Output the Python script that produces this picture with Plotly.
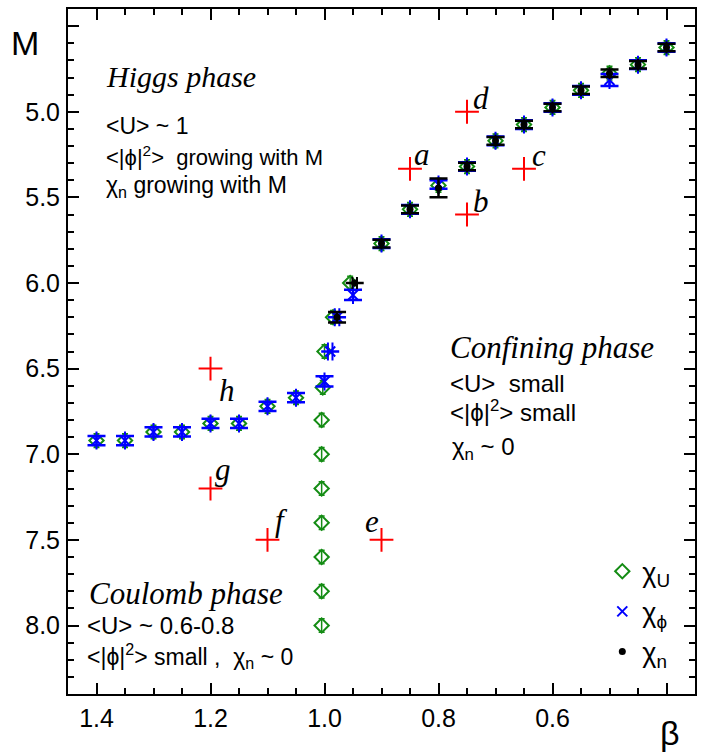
import plotly.graph_objects as go

# ---------------- data ----------------
# chi_U (green open diamonds)
beta_U = [1.40, 1.35, 1.30, 1.25, 1.20, 1.15, 1.10, 1.05, 1.003, 1.0, 0.985, 0.955,
          0.90, 0.85, 0.80, 0.75, 0.70, 0.65, 0.60, 0.55, 0.50, 0.45, 0.40,
          1.005, 1.005, 1.005, 1.005, 1.005, 1.005, 1.005]
M_U = [6.92, 6.92, 6.87, 6.87, 6.82, 6.82, 6.72, 6.67, 6.61, 6.40, 6.20, 6.00,
       5.77, 5.57, 5.43, 5.32, 5.17, 5.075, 4.975, 4.875, 4.775, 4.725, 4.625,
       6.80, 7.00, 7.20, 7.40, 7.60, 7.80, 8.00]
err_U = [0.04] * 30

# chi_phi (blue crosses)
beta_phi = [1.40, 1.35, 1.30, 1.25, 1.20, 1.15, 1.10, 1.05, 1.0, 0.99, 0.978, 0.95,
            0.90, 0.85, 0.80, 0.75, 0.70, 0.65, 0.60, 0.55, 0.50, 0.45, 0.40]
M_phi = [6.92, 6.92, 6.87, 6.87, 6.82, 6.82, 6.72, 6.67, 6.575, 6.40, 6.20, 6.07,
         5.77, 5.57, 5.425, 5.32, 5.17, 5.075, 4.975, 4.875, 4.815, 4.725, 4.625]
err_phi_y = [0.027] * 8 + [0.03, None, None, 0.03] + [0.025] * 8 + [0.035, 0.025, 0.025]
err_phi_x = [None] * 9 + [0.004, 0.004] + [None] * 12

# chi_n (black dots)
beta_n = [0.978, 0.947, 0.90, 0.85, 0.80, 0.75, 0.70, 0.65, 0.60, 0.55, 0.50, 0.45, 0.40]
M_n = [6.20, 6.00, 5.77, 5.57, 5.445, 5.32, 5.17, 5.075, 4.975, 4.875, 4.775, 4.725, 4.625]
err_n_y = [0.03, None, 0.022, 0.022, 0.055, 0.022, 0.022, 0.022, 0.022, 0.022, 0.022, 0.022, 0.022]
err_n_x = [None, 0.004] + [None] * 11

# red reference points a..h
beta_pts = [0.85, 0.75, 0.65, 0.75, 0.90, 1.10, 1.20, 1.20]
M_pts = [5.333, 5.60, 5.333, 5.00, 7.50, 7.50, 7.20, 6.50]
pt_labels = ["a", "b", "c", "d", "e", "f", "g", "h"]
lab_dx = [12, 14, 15, 14, -10, 14, 12, 16]
lab_dy = [14, 13, 13, 13, 18, 19, 19, -22]

x_tickvals = [1.4, 1.2, 1.0, 0.8, 0.6, 0.4]
x_ticktext = ["1.4", "1.2", "1.0", "0.8", "0.6", ""]
y_tickvals = [4.5, 5.0, 5.5, 6.0, 6.5, 7.0, 7.5, 8.0]
y_ticktext = ["", "5.0", "5.5", "6.0", "6.5", "7.0", "7.5", "8.0"]

GREEN = "#148c14"
BLUE = "#0000ff"
RED = "#ff0000"
SANS = "Liberation Sans, Arial, Helvetica, sans-serif"
SERIF = "Liberation Serif, Times New Roman, serif"

fig = go.Figure()

fig.add_trace(go.Scatter(
    x=beta_U, y=M_U, mode="markers", name="χ<sub>U</sub>", legendgroup="U",
    marker=dict(symbol="diamond-open", size=11, color=GREEN, line=dict(width=2, color=GREEN)),
    error_y=dict(type="data", array=err_U, color=GREEN, thickness=1.5, width=3),
))
fig.add_trace(go.Scatter(
    x=beta_phi, y=M_phi, mode="markers", name="χ<sub>ϕ</sub>", legendgroup="phi",
    marker=dict(symbol="x-thin-open", size=10, color=BLUE, line=dict(width=2, color=BLUE)),
    error_y=dict(type="data", array=err_phi_y, color=BLUE, thickness=2.5, width=9),
    error_x=dict(type="data", array=err_phi_x, color=BLUE, thickness=2, width=9),
))
fig.add_trace(go.Scatter(
    x=beta_n, y=M_n, mode="markers", name="χ<sub>n</sub>", legendgroup="n",
    marker=dict(symbol="circle", size=7, color="black"),
    error_y=dict(type="data", array=err_n_y, color="black", thickness=2.5, width=9),
    error_x=dict(type="data", array=err_n_x, color="black", thickness=2, width=6),
))
fig.add_trace(go.Scatter(
    x=beta_pts, y=M_pts, mode="markers", showlegend=False,
    marker=dict(symbol="cross-thin-open", size=17, color=RED, line=dict(width=2, color=RED)),
))

for b, m, t, dx, dy in zip(beta_pts, M_pts, pt_labels, lab_dx, lab_dy):
    fig.add_annotation(x=b, y=m, xref="x", yref="y", text=f"<i>{t}</i>", showarrow=False,
                       xshift=dx, yshift=dy, font=dict(family=SERIF, size=31, color="black"))

W, H = 704, 753
L, R, T, B = 68, 7, 8, 59
pw, ph = W - L - R, H - T - B


def px(xp):
    return (xp - L) / pw


def py(yp):
    return 1 - (yp - T) / ph


def txt(x, y, s, size=23, family=SANS, anchor="left"):
    fig.add_annotation(x=px(x), y=py(y), xref="paper", yref="paper", text=s, showarrow=False,
                       xanchor=anchor, yanchor="middle", font=dict(family=family, size=size, color="black"))


# Higgs phase
txt(104, 76, "<i>Higgs phase</i>", size=30, family=SERIF)
txt(104, 125, "&lt;U&gt; ~ 1")
txt(104, 155, "&lt;|ϕ|<sup>2</sup>&gt;  growing with M", size=22)
txt(104, 186, "χ<sub>n</sub> growing with M")
# Confining phase
txt(449, 347, "<i>Confining phase</i>", size=31, family=SERIF)
txt(449, 383, "&lt;U&gt;  small", size=24)
txt(449, 411, "&lt;|ϕ|<sup>2</sup>&gt; small", size=24)
txt(451, 448, "χ<sub>n</sub> ~ 0", size=24)
# Coulomb phase
txt(87, 593, "<i>Coulomb phase</i>", size=31, family=SERIF)
txt(85, 625, "&lt;U&gt; ~ 0.6-0.8", size=24)
txt(85, 656, "&lt;|ϕ|<sup>2</sup>&gt; small ,  χ<sub>n</sub> ~ 0", size=23)

# axis titles
txt(25, 42, "M", size=34, anchor="center")
txt(672, 733, "β", size=34, anchor="center")

axis_common = dict(
    showline=True, linewidth=2, linecolor="black", mirror="allticks",
    ticks="inside", ticklen=11, tickwidth=1.5, tickcolor="black",
    showgrid=False, zeroline=False,
    tickfont=dict(family=SANS, size=25, color="black"),
)

fig.update_xaxes(
    range=[1.45, 0.35], tickmode="array", tickvals=x_tickvals, ticktext=x_ticktext,
    minor=dict(dtick=0.05, tick0=0, ticks="inside", ticklen=6, tickwidth=1.5, tickcolor="black", showgrid=False),
    ticklabelstandoff=1, **axis_common,
)
fig.update_yaxes(
    range=[8.4, 4.4], tickmode="array", tickvals=y_tickvals, ticktext=y_ticktext,
    minor=dict(dtick=0.1, tick0=0, ticks="inside", ticklen=6, tickwidth=1.5, tickcolor="black", showgrid=False),
    ticklabelstandoff=1, **axis_common,
)

fig.update_layout(
    width=W, height=H, autosize=False,
    margin=dict(l=L, r=R, t=T, b=B, pad=0),
    paper_bgcolor="white", plot_bgcolor="white",
    font=dict(family=SANS, color="black"),
    showlegend=True,
    legend=dict(x=px(604), y=py(547), xanchor="left", yanchor="top",
                bgcolor="rgba(0,0,0,0)", borderwidth=0,
                font=dict(family=SANS, size=27, color="black"),
                traceorder="grouped", tracegroupgap=2, itemsizing="trace"),
)

fig.write_html("out.html")
